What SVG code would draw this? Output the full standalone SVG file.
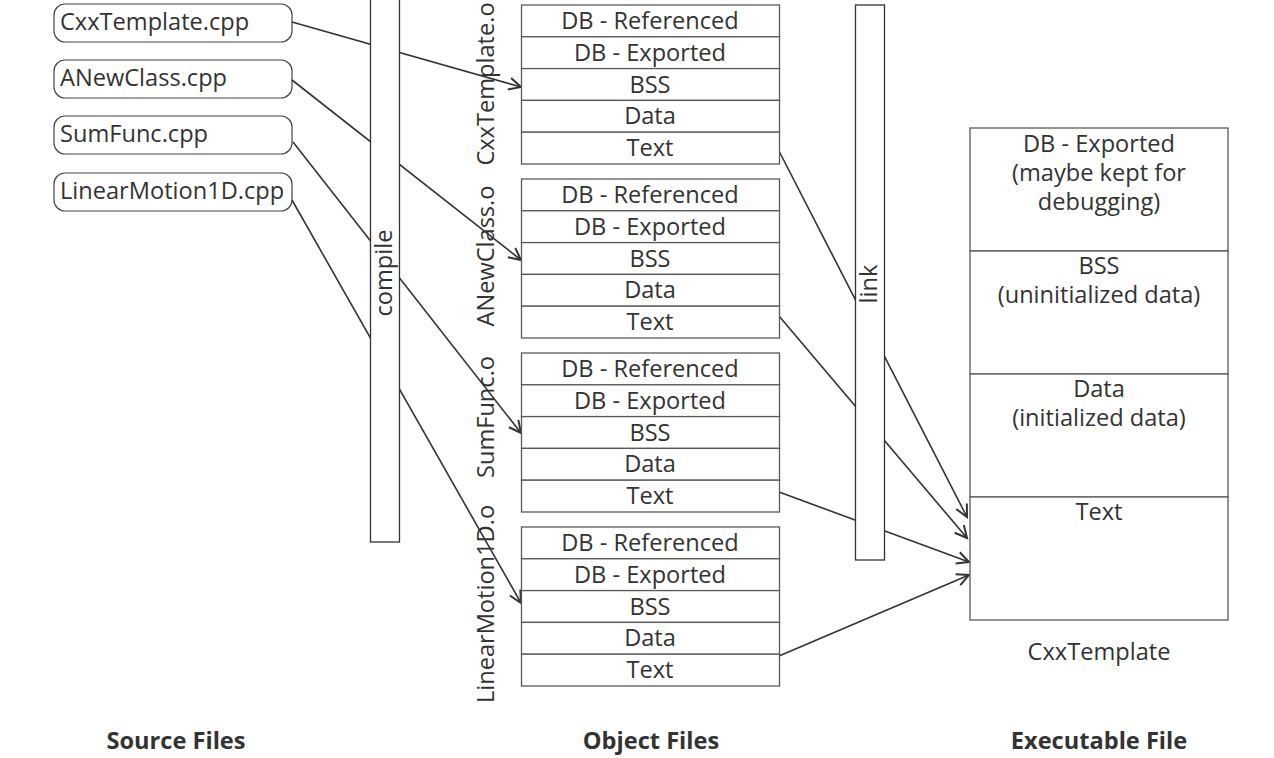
<svg xmlns="http://www.w3.org/2000/svg" width="1274" height="758" viewBox="0 0 1274 758">
<style>
text{font-family:"Open Sans","Liberation Sans",sans-serif;font-size:23.6px;fill:#333}
.c{text-anchor:middle}
.b{font-weight:bold;text-anchor:middle}
.box{fill:#fff;stroke:#5a5a5a;stroke-width:1.3}
.bar{fill:#fff;stroke:#333;stroke-width:1.3}
.src{fill:#fff;stroke:#444;stroke-width:1.2}
.ln{fill:none;stroke:#333;stroke-width:1.6;marker-end:url(#arr)}
</style>
<defs>
<marker id="arr" markerUnits="userSpaceOnUse" markerWidth="18" markerHeight="18" viewBox="-15 -9 18 18" refX="0" refY="0" orient="auto">
<path d="M-12,-6 L0,0 L-12,6" fill="none" stroke="#333" stroke-width="2"/>
</marker>
</defs>
<rect width="1274" height="758" fill="#fff"/>

<g id="src-cxx"><rect class="src" x="54" y="4" width="238" height="38" rx="11"/><text x="60" y="30">CxxTemplate.cpp</text></g>
<g id="src-anew"><rect class="src" x="54" y="60" width="238" height="38" rx="11"/><text x="60" y="86">ANewClass.cpp</text></g>
<g id="src-sum"><rect class="src" x="54" y="116" width="238" height="38" rx="11"/><text x="60" y="142">SumFunc.cpp</text></g>
<g id="src-lin"><rect class="src" x="54" y="173" width="238" height="38" rx="11"/><text x="60" y="199">LinearMotion1D.cpp</text></g>

<g id="connectors">
<path class="ln" d="M292,22 L521,87"/>
<path class="ln" d="M292,80 L521,260"/>
<path class="ln" d="M293,142 L521,433"/>
<path class="ln" d="M292,200 L521,603"/>
<path class="ln" d="M779,151 L967,517"/>
<path class="ln" d="M779,316 L967,538"/>
<path class="ln" d="M779,492 L969,562"/>
<path class="ln" d="M779,656 L969,575"/>
</g>

<g id="compile"><rect class="bar" x="370.5" y="-1" width="29" height="543"/><text class="c" transform="translate(392,273) rotate(-90)">compile</text></g>
<g id="link"><rect class="bar" x="855.5" y="5" width="29" height="555"/><text class="c" transform="translate(877,284) rotate(-90)">link</text></g>

<g id="obj-cxx">
<text class="c" transform="translate(494,84) rotate(-90)">CxxTemplate.o</text>
<rect class="box" x="521.5" y="5" width="258" height="31.8"/>
<rect class="box" x="521.5" y="36.8" width="258" height="31.8"/>
<rect class="box" x="521.5" y="68.6" width="258" height="31.8"/>
<rect class="box" x="521.5" y="100.4" width="258" height="31.8"/>
<rect class="box" x="521.5" y="132.2" width="258" height="31.8"/>
<text class="c" x="650" y="29">DB - Referenced</text>
<text class="c" x="650" y="61">DB - Exported</text>
<text class="c" x="650" y="93">BSS</text>
<text class="c" x="650" y="124">Data</text>
<text class="c" x="650" y="156">Text</text>
</g>
<g id="obj-anew">
<text class="c" transform="translate(494,256) rotate(-90)">ANewClass.o</text>
<rect class="box" x="521.5" y="179" width="258" height="31.8"/>
<rect class="box" x="521.5" y="210.8" width="258" height="31.8"/>
<rect class="box" x="521.5" y="242.6" width="258" height="31.8"/>
<rect class="box" x="521.5" y="274.4" width="258" height="31.8"/>
<rect class="box" x="521.5" y="306.2" width="258" height="31.8"/>
<text class="c" x="650" y="203">DB - Referenced</text>
<text class="c" x="650" y="235">DB - Exported</text>
<text class="c" x="650" y="267">BSS</text>
<text class="c" x="650" y="298">Data</text>
<text class="c" x="650" y="330">Text</text>
</g>
<g id="obj-sum">
<text class="c" transform="translate(494,417) rotate(-90)">SumFunc.o</text>
<rect class="box" x="521.5" y="353" width="258" height="31.8"/>
<rect class="box" x="521.5" y="384.8" width="258" height="31.8"/>
<rect class="box" x="521.5" y="416.6" width="258" height="31.8"/>
<rect class="box" x="521.5" y="448.4" width="258" height="31.8"/>
<rect class="box" x="521.5" y="480.2" width="258" height="31.8"/>
<text class="c" x="650" y="377">DB - Referenced</text>
<text class="c" x="650" y="409">DB - Exported</text>
<text class="c" x="650" y="441">BSS</text>
<text class="c" x="650" y="472">Data</text>
<text class="c" x="650" y="504">Text</text>
</g>
<g id="obj-lin">
<text class="c" transform="translate(494,604) rotate(-90)">LinearMotion1D.o</text>
<rect class="box" x="521.5" y="527" width="258" height="31.8"/>
<rect class="box" x="521.5" y="558.8" width="258" height="31.8"/>
<rect class="box" x="521.5" y="590.6" width="258" height="31.8"/>
<rect class="box" x="521.5" y="622.4" width="258" height="31.8"/>
<rect class="box" x="521.5" y="654.2" width="258" height="31.8"/>
<text class="c" x="650" y="551">DB - Referenced</text>
<text class="c" x="650" y="583">DB - Exported</text>
<text class="c" x="650" y="615">BSS</text>
<text class="c" x="650" y="646">Data</text>
<text class="c" x="650" y="678">Text</text>
</g>

<g id="exec">
<rect class="box" x="970" y="128" width="258" height="123"/>
<rect class="box" x="970" y="251" width="258" height="123"/>
<rect class="box" x="970" y="374" width="258" height="123"/>
<rect class="box" x="970" y="497" width="258" height="123"/>
<text class="c" x="1099" y="152">DB - Exported</text>
<text class="c" x="1099" y="181">(maybe kept for</text>
<text class="c" x="1099" y="210">debugging)</text>
<text class="c" x="1099" y="274">BSS</text>
<text class="c" x="1099" y="303">(uninitialized data)</text>
<text class="c" x="1099" y="397">Data</text>
<text class="c" x="1099" y="426">(initialized data)</text>
<text class="c" x="1099" y="520">Text</text>
<text class="c" x="1099" y="660">CxxTemplate</text>
</g>

<g id="labels">
<text class="b" x="176" y="749">Source Files</text>
<text class="b" x="651" y="749">Object Files</text>
<text class="b" x="1099" y="749">Executable File</text>
</g>
</svg>
